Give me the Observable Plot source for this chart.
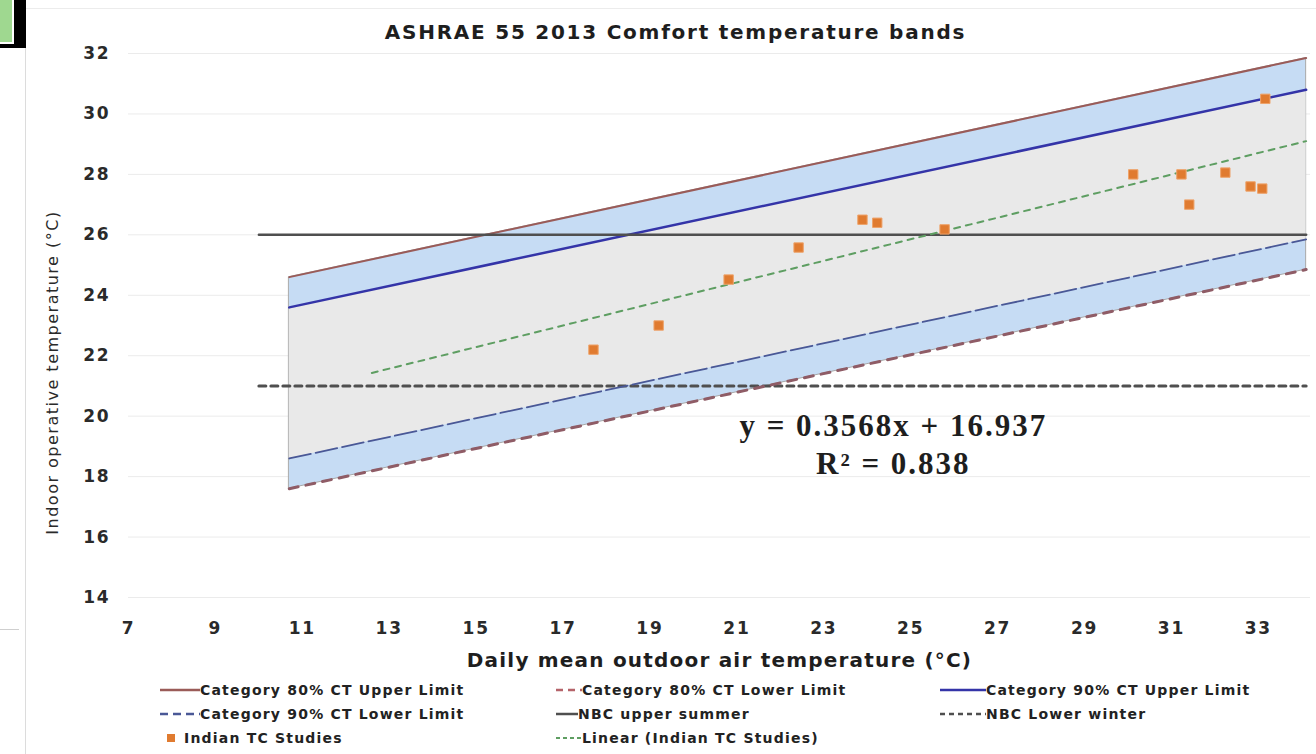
<!DOCTYPE html>
<html><head><meta charset="utf-8">
<script src="https://cdn.jsdelivr.net/npm/d3@7"></script>
<script src="https://cdn.jsdelivr.net/npm/@observablehq/plot@0.6"></script>
<style>
body{margin:0;background:#fff;width:1316px;height:754px;overflow:hidden;position:relative;font-family:"DejaVu Sans",sans-serif;}
#chart{position:absolute;left:0;top:0;}
#chart [aria-label^="x-axis"] text, #chart [aria-label^="y-axis"] text{letter-spacing:1.8px;}
.leg{position:absolute;font:bold 14px "DejaVu Sans",sans-serif;letter-spacing:1.2px;color:#222;white-space:nowrap;display:flex;align-items:center;height:20px;}
.leg svg{display:block;}
.deco{position:absolute;}
</style></head><body>
<div class="deco" style="left:25px;top:8px;width:1291px;height:746px;border-left:1px solid #dcdcdc;border-top:1px solid #ececec;"></div>
<div class="deco" style="left:0;top:629px;width:19px;height:0;border-top:1px solid #cfcfcf;"></div>
<div id="chart"></div>
<div id="legend"></div>
<div class="deco" style="left:0;top:0;width:26px;height:48px;background:#000;"></div>
<div class="deco" style="left:0;top:0;width:12px;height:42px;background:#9fd890;border-right:2px solid #fff;border-bottom:2px solid #fff;"></div>
<script>
// ---- data ----
const xTicks = [7, 9, 11, 13, 15, 17, 19, 21, 23, 25, 27, 29, 31, 33];
const yTicks = [14, 16, 18, 20, 22, 24, 26, 28, 30, 32];

const bandX   = [10.7, 34.1];
const upper80 = [24.6, 31.85];
const upper90 = [23.6, 30.8];
const lower90 = [18.6, 25.85];
const lower80 = [17.6, 24.85];

const nbcX     = [10.0, 34.1];
const nbcUpper = [26, 26];
const nbcLower = [21, 21];

const trendX = [12.6, 34.1];
const trendY = [21.43, 29.1];

const studyX = [17.70, 19.20, 20.81, 22.42, 23.89, 24.23, 25.78, 30.12, 31.23, 31.41, 32.24, 32.82, 33.09, 33.16];
const studyY = [22.2, 23.0, 24.52, 25.58, 26.5, 26.4, 26.18, 28.0, 28.0, 27.0, 28.06, 27.6, 27.53, 30.5];

const titleText = "ASHRAE 55 2013 Comfort temperature bands";
const xLabel = "Daily mean outdoor air temperature (°C)";
const yLabel = "Indoor operative temperature (°C)";
const eqText = "y = 0.3568x + 16.937";
const r2Text = "R² = 0.838";

const legendLabels = [
  "Category 80% CT Upper Limit", "Category 80% CT Lower Limit", "Category 90% CT Upper Limit",
  "Category 90% CT Lower Limit", "NBC upper summer", "NBC Lower winter",
  "Indian TC Studies", "Linear (Indian TC Studies)"
];

// ---- tables ----
const band = bandX.map((x, i) => ({x, u80: upper80[i], u90: upper90[i], l90: lower90[i], l80: lower80[i]}));
const nbc = nbcX.map((x, i) => ({x, up: nbcUpper[i], lo: nbcLower[i]}));
const trend = trendX.map((x, i) => ({x, y: trendY[i]}));
const studies = studyX.map((x, i) => ({x, y: studyY[i]}));

const C = {
  u80: "#9a5b58", l80: "#8f5c66", u90: "#3434a8", l90: "#4a5896",
  nbc: "#4f4f4f", trend: "#5e9e62", dot: "#e07b30"
};

const chart = Plot.plot({
  width: 1316, height: 672,
  marginLeft: 128, marginRight: 6, marginTop: 53, marginBottom: 75,
  style: {fontFamily: "DejaVu Sans, sans-serif", fontSize: "17px", fontWeight: "bold", color: "#2a2a2a", background: "transparent"},
  x: {domain: [7, 34.2], ticks: xTicks, tickSize: 0, tickPadding: 24, label: null, tickFormat: d => d},
  y: {domain: [14, 32], ticks: yTicks, tickSize: 0, tickPadding: 18, label: null, tickFormat: d => d},
  marks: [
    Plot.gridY(yTicks, {stroke: "#ebebeb", strokeOpacity: 1}),
    Plot.areaY(band, {x: "x", y1: "l80", y2: "u80", fill: "#c6dcf4", stroke: "#a8a8a8", strokeWidth: 1}),
    Plot.areaY(band, {x: "x", y1: "l90", y2: "u90", fill: "#e9e9e9"}),
    Plot.lineY(nbc, {x: "x", y: "lo", stroke: C.nbc, strokeWidth: 3, strokeDasharray: "7,5"}),
    Plot.lineY(band, {x: "x", y: "l80", stroke: C.l80, strokeWidth: 3, strokeDasharray: "9,8"}),
    Plot.lineY(band, {x: "x", y: "l90", stroke: C.l90, strokeWidth: 1.8, strokeDasharray: "22,5"}),
    Plot.lineY(band, {x: "x", y: "u80", stroke: C.u80, strokeWidth: 2}),
    Plot.lineY(band, {x: "x", y: "u90", stroke: C.u90, strokeWidth: 2.5}),
    Plot.lineY(nbc, {x: "x", y: "up", stroke: C.nbc, strokeWidth: 2.5}),
    Plot.lineY(trend, {x: "x", y: "y", stroke: C.trend, strokeWidth: 2, strokeDasharray: "6,6"}),
    Plot.dot(studies, {x: "x", y: "y", symbol: "square", r: 5.3, fill: C.dot, stroke: "#eea36a", strokeWidth: 1}),
    Plot.text([eqText], {x: 24.6, y: 19.66, text: d => d, fontFamily: "Liberation Serif, serif", fontSize: 31, fontWeight: "bold", fill: "#1e1e1e"}),
    Plot.text([r2Text], {x: 24.6, y: 18.43, text: d => d, fontFamily: "Liberation Serif, serif", fontSize: 31, fontWeight: "bold", fill: "#1e1e1e"}),
    Plot.text([titleText], {frameAnchor: "top", textAnchor: "middle", lineAnchor: "middle", dx: -44, dy: -21, text: d => d, fontSize: 20, fontWeight: "bold", fill: "#1e1e1e"}),
    Plot.text([yLabel], {frameAnchor: "left", textAnchor: "middle", lineAnchor: "middle", rotate: -90, dx: -76, dy: 47, text: d => d, fontSize: 16, fontWeight: "normal", fill: "#2a2a2a"}),
    Plot.text([xLabel], {frameAnchor: "bottom", textAnchor: "middle", lineAnchor: "middle", dy: 63, text: d => d, fontSize: 20, fontWeight: "bold", fill: "#1e1e1e"})
  ]
});
document.getElementById("chart").appendChild(chart);

// letter spacing to mimic the wide source lettering
const spacing = new Map([[titleText, "1.75px"], [xLabel, "1.2px"], [yLabel, "1.5px"], [eqText, "2px"], [r2Text, "2px"]]);
d3.select(chart).selectAll("text").each(function () {
  const s = spacing.get(this.textContent);
  if (s) this.style.letterSpacing = s;
});

// ---- legend ----
const legSpec = [
  {left: 160, top: 680, sw: 40, stroke: C.u80, dash: null, w: 2.5},
  {left: 556, top: 680, sw: 26, stroke: "#b5636a", dash: "7,5", w: 2.5},
  {left: 940, top: 680, sw: 46, stroke: C.u90, dash: null, w: 2.5},
  {left: 160, top: 704, sw: 40, stroke: C.l90, dash: "8,5", w: 2.5},
  {left: 556, top: 704, sw: 22, stroke: C.nbc, dash: null, w: 2.5},
  {left: 940, top: 704, sw: 46, stroke: C.nbc, dash: "5,4", w: 2.5},
  {left: 166, top: 728, square: true},
  {left: 556, top: 728, sw: 26, stroke: C.trend, dash: "4,3", w: 2}
];
const legend = document.getElementById("legend");
legendLabels.forEach((label, i) => {
  const s = legSpec[i];
  const div = document.createElement("div");
  div.className = "leg";
  div.style.left = s.left + "px";
  div.style.top = s.top + "px";
  let sw;
  if (s.square) {
    sw = `<svg width="18" height="20"><rect x="1" y="6" width="8" height="8" fill="${C.dot}"/></svg>`;
  } else {
    sw = `<svg width="${s.sw}" height="20"><line x1="0" y1="10" x2="${s.sw}" y2="10" stroke="${s.stroke}" stroke-width="${s.w}" ${s.dash ? `stroke-dasharray="${s.dash}"` : ""}/></svg>`;
  }
  div.innerHTML = sw + `<span>${label}</span>`;
  legend.appendChild(div);
});
</script>
</body></html>
